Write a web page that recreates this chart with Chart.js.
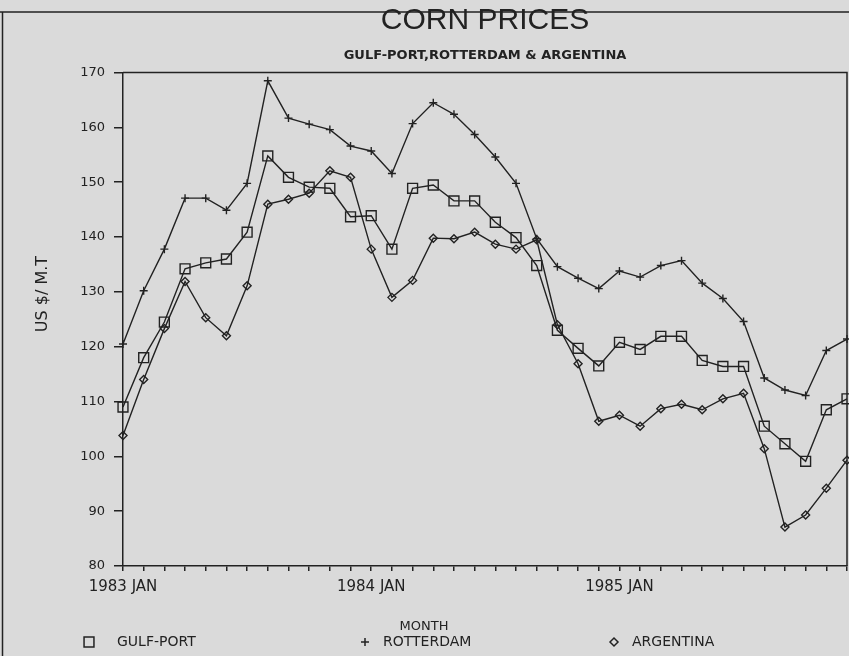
<!DOCTYPE html>
<html>
<head>
<meta charset="utf-8">
<title>Corn prices</title>
<script src="https://cdn.jsdelivr.net/npm/chart.js@4.4.1/dist/chart.umd.min.js"></script>
<style>
  html, body { margin: 0; padding: 0; background: #dadada; }
  #wrap { width: 849px; height: 656px; }
</style>
</head>
<body>
<div id="wrap"><canvas id="corn-chart" width="849" height="656"></canvas></div>
<script>
// monthly prices, US $ per metric ton
const months = [
  "1983 JAN", "1983 FEB", "1983 MAR", "1983 APR", "1983 MAY", "1983 JUN",
  "1983 JUL", "1983 AUG", "1983 SEP", "1983 OCT", "1983 NOV", "1983 DEC",
  "1984 JAN", "1984 FEB", "1984 MAR", "1984 APR", "1984 MAY", "1984 JUN",
  "1984 JUL", "1984 AUG", "1984 SEP", "1984 OCT", "1984 NOV", "1984 DEC",
  "1985 JAN", "1985 FEB", "1985 MAR", "1985 APR", "1985 MAY", "1985 JUN",
  "1985 JUL", "1985 AUG", "1985 SEP", "1985 OCT", "1985 NOV", "1985 DEC"
];
const gulfPort = [
  109, 118, 124.5, 134.2, 135.3, 136, 140.9, 154.8, 150.9, 149.1, 148.9, 143.7,
  143.9, 137.8, 148.9, 149.5, 146.6, 146.6, 142.7, 139.9, 134.8, 123, 119.7, 116.5,
  120.8, 119.5, 121.9, 121.9, 117.5, 116.4, 116.4, 105.5, 102.3, 99.1, 108.5, 110.5
];
const rotterdam = [
  120.5, 130.2, 137.8, 147.1, 147.1, 144.9, 149.8, 168.5, 161.7, 160.6, 159.6, 156.6,
  155.7, 151.6, 160.7, 164.5, 162.4, 158.7, 154.6, 149.8, 139.7, 134.6, 132.5, 130.6,
  133.8, 132.7, 134.8, 135.7, 131.6, 128.8, 124.6, 114.3, 112.1, 111.1, 119.3, 121.4
];
const argentina = [
  103.8, 114, 123.3, 131.9, 125.3, 122, 131.1, 146, 146.9, 148, 152.1, 150.9,
  137.8, 129, 132.1, 139.8, 139.7, 140.9, 138.7, 137.8, 139.5, 124, 116.9, 106.4,
  107.5, 105.5, 108.7, 109.5, 108.5, 110.5, 111.5, 101.4, 87.1, 89.3, 94.2, 99.3
];
const seriesNames = ["GULF-PORT", "ROTTERDAM", "ARGENTINA"];
const yRange = [80, 170];

const ink = "#222";
const paper = "#dadada";
const tickFont = "'DejaVu Sans', sans-serif";

// legend row, x title and y title drawn by hand, the old plot has them spread wide
const legendMarkX = [89, 365, 614];
const legendTextX = [117, 383, 632];

const paperPlugin = {
  id: "paper",
  beforeDraw(chart) {
    const { ctx, width, height } = chart;
    ctx.save();
    ctx.fillStyle = paper;
    ctx.fillRect(0, 0, width, height);
    // outer frame of the page
    ctx.strokeStyle = ink;
    ctx.lineWidth = 1.5;
    ctx.beginPath();
    ctx.moveTo(0, 12);
    ctx.lineTo(width, 12);
    ctx.moveTo(2.5, 12);
    ctx.lineTo(2.5, height);
    ctx.stroke();
    ctx.restore();
  },
  afterDraw(chart) {
    const { ctx, chartArea } = chart;
    ctx.save();
    ctx.strokeStyle = ink;
    ctx.lineWidth = 1.5;
    ctx.beginPath();
    ctx.moveTo(chartArea.left, chartArea.top);
    ctx.lineTo(chartArea.right, chartArea.top);
    ctx.lineTo(chartArea.right, chartArea.bottom);
    ctx.stroke();

    ctx.fillStyle = ink;
    ctx.textBaseline = "middle";

    // y title
    ctx.save();
    ctx.translate(43, 294);
    ctx.rotate(-Math.PI / 2);
    ctx.textAlign = "center";
    ctx.font = "16px " + tickFont;
    ctx.fillText("US $/ M.T", 0, 0);
    ctx.restore();

    ctx.font = "13px " + tickFont;
    ctx.textAlign = "center";
    ctx.fillText("MONTH", 424, chartArea.bottom + 61);

    ctx.font = "14px " + tickFont;
    ctx.textAlign = "left";
    chart.data.datasets.forEach((ds, i) => {
      const y = chartArea.bottom + 76;
      ctx.fillStyle = "rgba(0,0,0,0)";
      ctx.strokeStyle = ink;
      Chart.helpers.drawPoint(ctx, {
        pointStyle: ds.pointStyle,
        radius: ds.pointRadius,
        borderWidth: 1.5
      }, legendMarkX[i], y);
      ctx.fillStyle = ink;
      ctx.fillText(ds.label, legendTextX[i], y);
    });
    ctx.restore();
  }
};

const lineStyle = {
  borderColor: ink,
  borderWidth: 1.4,
  pointBorderColor: ink,
  pointBackgroundColor: "transparent",
  pointBorderWidth: 1.4,
  tension: 0,
  fill: false
};

new Chart(document.getElementById("corn-chart"), {
  type: "line",
  data: {
    labels: months,
    datasets: [
      { ...lineStyle, label: seriesNames[0], data: gulfPort, pointStyle: "rect", pointRadius: 7 },
      { ...lineStyle, label: seriesNames[1], data: rotterdam, pointStyle: "cross", pointRadius: 4 },
      { ...lineStyle, label: seriesNames[2], data: argentina, pointStyle: "rectRot", pointRadius: 4 }
    ]
  },
  options: {
    responsive: false,
    animation: false,
    layout: { autoPadding: false, padding: { top: 3, right: 2, bottom: 0, left: 10 } },
    plugins: {
      legend: { display: false },
      tooltip: { enabled: false },
      title: {
        display: true,
        fullSize: false,
        text: "CORN PRICES",
        color: ink,
        font: { family: "'Liberation Sans', Arial, sans-serif", size: 30, weight: "normal" },
        padding: { top: 0, bottom: 7 }
      },
      subtitle: {
        display: true,
        fullSize: false,
        text: "GULF-PORT,ROTTERDAM & ARGENTINA",
        color: ink,
        font: { family: tickFont, size: 13, weight: "bold" },
        padding: { top: 2, bottom: 9 }
      }
    },
    scales: {
      x: {
        offset: false,
        afterFit: (scale) => {
          scale.height = 90;
          scale.paddingLeft = 0;
          scale.paddingRight = 0;
        },
        border: { display: true, color: ink, width: 1.5 },
        grid: { display: true, drawOnChartArea: false, drawTicks: true, tickLength: 5, color: ink, lineWidth: 1.5 },
        ticks: {
          autoSkip: false,
          maxRotation: 0,
          padding: 7,
          color: ink,
          font: { family: tickFont, size: 15 },
          callback: function (value) {
            const lab = this.getLabelForValue(value);
            return lab.endsWith("JAN") ? lab : "";
          }
        }
      },
      y: {
        min: yRange[0],
        max: yRange[1],
        afterFit: (scale) => { scale.width = 113; },
        border: { display: true, color: ink, width: 1.5 },
        grid: { display: true, drawOnChartArea: false, drawTicks: true, tickLength: 9, color: ink, lineWidth: 1.5 },
        ticks: {
          stepSize: 10,
          padding: 9,
          color: ink,
          font: { family: tickFont, size: 13 }
        }
      }
    }
  },
  plugins: [paperPlugin]
});
</script>
</body>
</html>
